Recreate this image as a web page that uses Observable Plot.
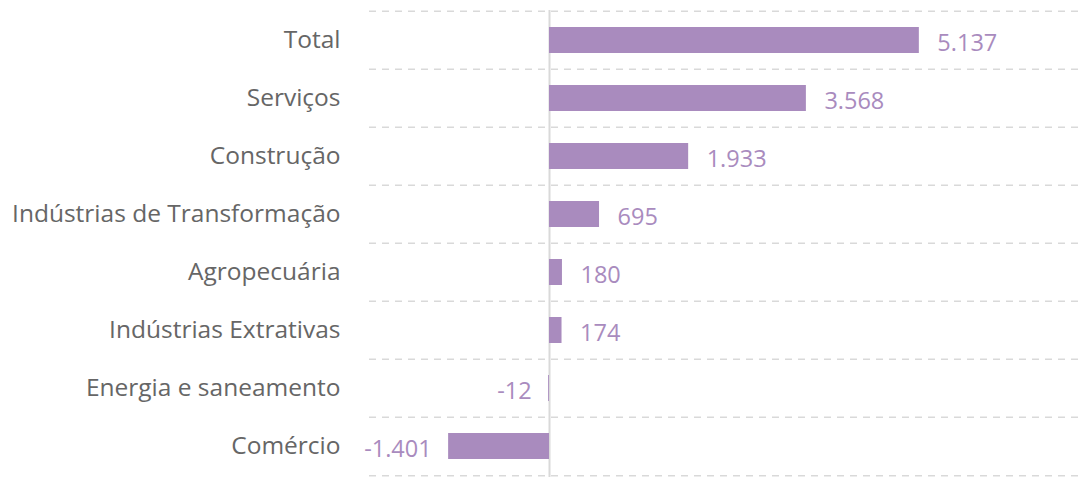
<!DOCTYPE html>
<html>
<head>
<meta charset="utf-8">
<script src="https://cdn.jsdelivr.net/npm/d3@7"></script>
<script src="https://cdn.jsdelivr.net/npm/@observablehq/plot@0.6"></script>
<style>
  html, body { margin: 0; padding: 0; background: #fff; }
  #chart svg { display: block; }
</style>
</head>
<body>
<div id="chart"></div>
<script>
const categories = ["Total", "Serviços", "Construção", "Indústrias de Transformação", "Agropecuária", "Indústrias Extrativas", "Energia e saneamento", "Comércio"];
const values = [5137, 3568, 1933, 695, 180, 174, -12, -1401];

const data = categories.map((c, i) => ({category: c, value: values[i]}));
const fmt = d3.formatLocale({decimal: ",", thousands: ".", grouping: [3], currency: ["R$", ""], minus: "-"}).format(",d");

const W = 1083, H = 478, mt = 10, mb = 1;
const step = (H - mt - mb) / categories.length;
const font = "'Open Sans', 'Noto Sans', sans-serif";
const purple = "#a98bbe";

const chart = Plot.plot({
  width: W,
  height: H,
  marginTop: mt,
  marginBottom: mb,
  marginLeft: 369,
  marginRight: 0,
  style: {fontFamily: font, background: "#fff"},
  x: {domain: [-2500, 7417], axis: null},
  y: {domain: categories, paddingInner: 0.55, paddingOuter: 0.275, label: null},
  marks: [
    Plot.ruleY(categories, {y: d => d, dy: -step / 2, stroke: "#d9d9d9", strokeWidth: 1.5, strokeDasharray: "7,6"}),
    Plot.ruleY([categories[categories.length - 1]], {y: d => d, dy: step / 2, stroke: "#d9d9d9", strokeWidth: 1.5, strokeDasharray: "7,6"}),
    Plot.ruleX([0], {stroke: "#d9d9d9", strokeWidth: 2}),
    Plot.barX(data, {x: "value", y: "category", fill: purple}),
    Plot.text(data.filter(d => d.value >= 0), {x: "value", y: "category", text: d => fmt(d.value), textAnchor: "start", dx: 18, dy: 3, fill: purple, fontSize: 23.5}),
    Plot.text(data.filter(d => d.value < 0), {x: "value", y: "category", text: d => fmt(d.value), textAnchor: "end", dx: -17, dy: 3, fill: purple, fontSize: 23.5}),
    Plot.axisY({tickSize: 0, tickPadding: 29, fontSize: 24.5, fill: "#666666", label: null})
  ]
});
document.getElementById("chart").appendChild(chart);
</script>
</body>
</html>
